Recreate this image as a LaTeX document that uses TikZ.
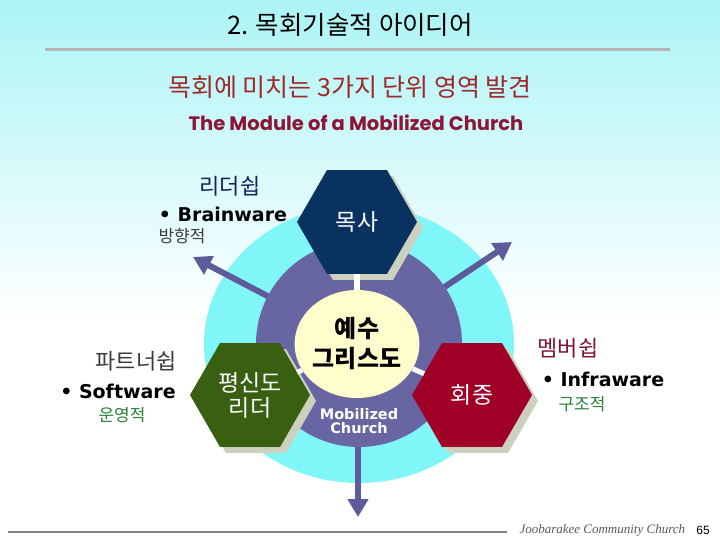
\documentclass[tikz,border=0pt]{standalone}
\usepackage{fontspec}
\usetikzlibrary{shapes.geometric,arrows.meta,positioning}
\newfontfamily\krfont{Noto Sans CJK KR}
\newfontfamily\verdfont{DejaVu Sans}
\newfontfamily\geofont{Poppins}
\newfontfamily\footfont{Liberation Serif}
\newfontfamily\numfont{Liberation Sans}
\newcommand{\fsz}[2]{\fontsize{#1}{#2}\selectfont}
\definecolor{BgClr}{RGB}{172,244,246}
\definecolor{RingClr}{RGB}{128,246,248}
\definecolor{CoreClr}{RGB}{104,102,162}
\definecolor{ArrowClr}{RGB}{94,91,155}
\definecolor{YellowClr}{RGB}{255,253,204}
\definecolor{NavyClr}{RGB}{10,50,96}
\definecolor{GreenClr}{RGB}{56,96,16}
\definecolor{CrimsonClr}{RGB}{160,0,40}
\definecolor{ShadowClr}{RGB}{204,208,190}
\definecolor{RuleClr}{RGB}{180,180,180}
\definecolor{TitleRedClr}{RGB}{160,40,40}
\definecolor{ModuleClr}{RGB}{140,22,56}
\definecolor{LeadClr}{RGB}{20,35,90}
\definecolor{PartClr}{RGB}{60,60,60}
\definecolor{MemberClr}{RGB}{130,20,50}
\definecolor{WordClr}{RGB}{40,130,50}

\begin{document}
\begin{tikzpicture}[x=1pt,y=-1pt,
  hexa/.style={regular polygon,regular polygon sides=6,minimum size=120pt,inner sep=0pt,
    text=white,align=center,font=\krfont\fsz{23}{25}},
  hexshadow/.style={regular polygon,regular polygon sides=6,minimum size=120pt,inner sep=0pt,fill=ShadowClr},
  arr/.style={ArrowClr,line width=6pt,-{Triangle[width=20pt,length=18pt]}},
  link/.style={white,line width=5pt},
  kor/.style={font=\krfont\fsz{22}{26}},
  ware/.style={font=\verdfont\bfseries\fsz{19}{21}},
  word/.style={font=\krfont\fsz{17}{20},text=WordClr}]
\useasboundingbox (0,0) rectangle (720,540);

% background
\shade[top color=BgClr,bottom color=white] (0,0) rectangle (720,320);
\fill[white] (0,320) rectangle (720,540);

% heading
\node (title) at (350,25) {\krfont\fsz{25.5}{28}2. 목회기술적 아이디어};
\draw[RuleClr,line width=3pt] (45,50) -- (670,50);
\node[text=TitleRedClr] (sub) at (350,87) {\krfont\fsz{25}{28}목회에 미치는 3가지 단위 영역 발견};
\node[text=ModuleClr] (module) at (356,123) {\geofont\bfseries\fsz{19.5}{22}The Module of a Mobilized Church};

% rings
\coordinate (mid) at (359,344);
\node[ellipse,fill=RingClr,minimum width=310pt,minimum height=278pt,inner sep=0pt] (ring) at (mid) {};

\coordinate (tipL) at (193,257);
\coordinate (tipR) at (512,242);
\coordinate (tipB) at (358,517);
\draw[arr] (mid) -- (tipL);
\draw[arr] (mid) -- (tipR);
\draw[arr] (358,344) -- (tipB);

\node[circle,fill=CoreClr,minimum size=206pt,inner sep=0pt] (core) at (mid) {};
\node[ellipse,fill=YellowClr,minimum width=120pt,minimum height=108pt,inner sep=0pt,
  align=center,font=\krfont\bfseries\fsz{24}{30}] (jesus) at (357,344) {예수\\그리스도};

% hexagons
\node[hexshadow] at (363,228) {};
\node[hexshadow] at (256,401) {};
\node[hexshadow] at (478,401) {};
\node[hexa,fill=NavyClr] (pastor) at (357,222) {목사};
\node[hexa,fill=GreenClr] (lay) at (250,395) {평신도\\리더};
\node[hexa,fill=CrimsonClr] (flock) at (472,395) {회중};

\draw[link,line width=6pt] (jesus) -- (pastor);
\draw[link] (jesus) -- (lay);
\draw[link] (jesus) -- (flock);

\node[text=white,align=center,font=\verdfont\bfseries\fsz{14.5}{14}] (mobil) at (359,421) {Mobilized\\Church};

% labels
\node[kor,text=LeadClr] (lead) at (230,186) {리더쉽};
\node[ware] (brain) at (223,214) {• Brainware};
\node[word,text=PartClr] (dir) at (182,236) {방향적};

\node[kor,text=PartClr] (part) at (136,361) {파트너쉽};
\node[ware] (soft) at (118,391) {• Software};
\node[word] (oper) at (122,415) {운영적};

\node[kor,text=MemberClr] (member) at (568,348) {멤버쉽};
\node[ware] (infra) at (603,379) {• Infraware};
\node[word] (struct) at (582,404) {구조적};

% footer
\draw[gray,line width=1.2pt] (8,532) -- (507,532);
\node[anchor=west,text=black!65] (church) at (516,530) {\footfont\itshape\fsz{13}{14}Joobarakee Community Church};
\node (page) at (703,530) {\numfont\fsz{12}{14}65};
\end{tikzpicture}
\end{document}
